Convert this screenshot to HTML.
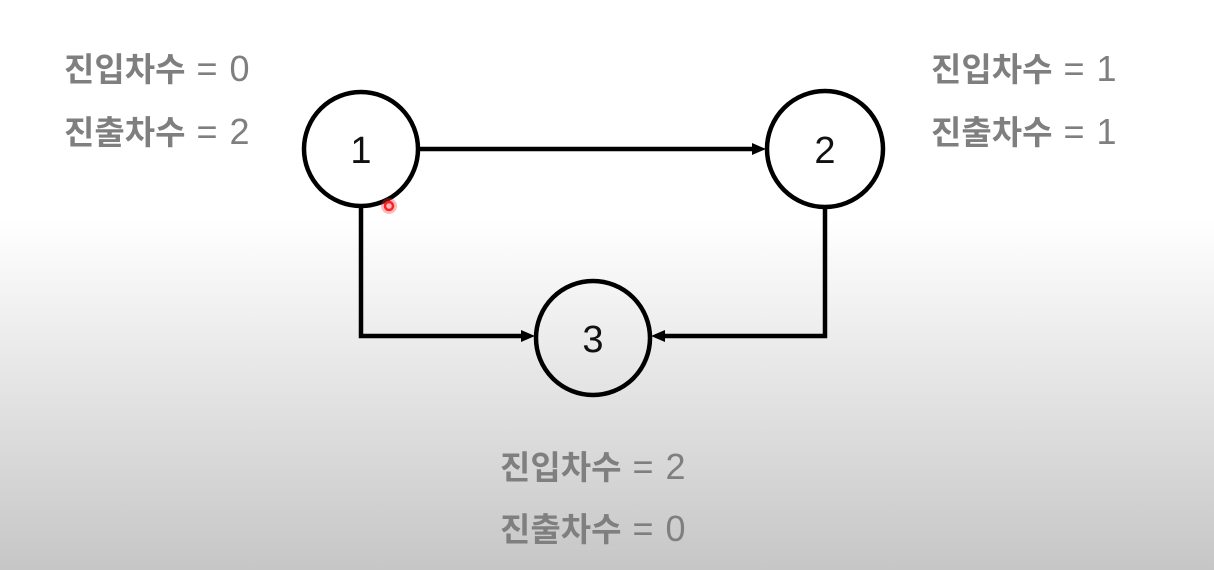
<!DOCTYPE html>
<html><head><meta charset="utf-8"><style>
html,body{margin:0;padding:0}
body{width:1214px;height:570px;overflow:hidden;background:linear-gradient(to bottom,#fff 0px,#fff 220px,#e2e2e2 400px,#c6c6c6 570px);position:relative;font-family:"Liberation Sans","Noto Sans CJK KR",sans-serif}
.t{position:absolute;color:#7f7f7f;font-size:36px;line-height:40px;white-space:nowrap;letter-spacing:1px}
.t b{font-weight:bold;font-family:"Noto Sans CJK KR",sans-serif;font-size:33px;letter-spacing:0}
</style></head><body>
<div class="t" style="left:64px;top:47px"><b>진입차수</b> = 0</div>
<div class="t" style="left:64px;top:110px"><b>진출차수</b> = 2</div>
<div class="t" style="left:931px;top:47px"><b>진입차수</b> = 1</div>
<div class="t" style="left:931px;top:110px"><b>진출차수</b> = 1</div>
<div class="t" style="left:500px;top:445px"><b>진입차수</b> = 2</div>
<div class="t" style="left:500px;top:507px"><b>진출차수</b> = 0</div>
<svg width="1214" height="570" style="position:absolute;left:0;top:0">
<g fill="none" stroke="#000" stroke-width="4.5">
<circle cx="361" cy="149" r="57"/>
<circle cx="825" cy="149" r="58"/>
<circle cx="593" cy="338" r="57"/>
<line x1="420" y1="149" x2="755" y2="149"/>
<polyline points="361,207 361,336 523,336"/>
<polyline points="825,208 825,336 663,336"/>
</g>
<g fill="#000">
<polygon points="766,149 752,143 752,155"/>
<polygon points="535,336 521,330 521,342"/>
<polygon points="651,336 665,330 665,342"/>
</g>
<g font-family="Liberation Sans,sans-serif" font-size="38" text-anchor="middle" fill="#111">
<text x="361" y="163">1</text>
<text x="825" y="163">2</text>
<text x="593" y="352">3</text>
</g>
<circle cx="389" cy="206" r="8" fill="rgba(255,60,60,0.35)"/>
<circle cx="389" cy="206" r="4" fill="none" stroke="#f22" stroke-width="2.5"/>
</svg>
</body></html>
